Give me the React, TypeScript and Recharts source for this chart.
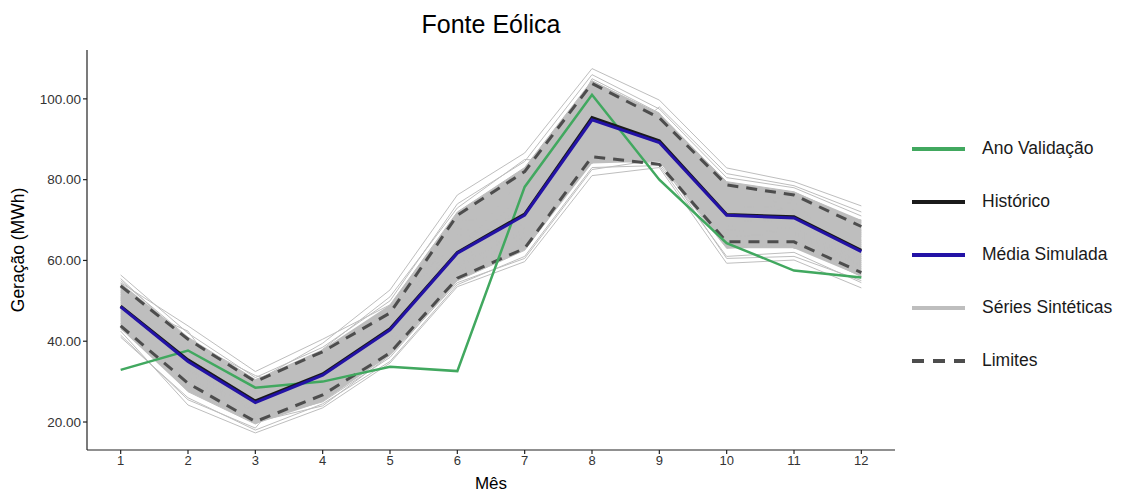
import { ComposedChart, Line, Area, XAxis, YAxis, Legend } from "recharts";

const meses = [1, 2, 3, 4, 5, 6, 7, 8, 9, 10, 11, 12];

const anoValidacao = [32.9, 37.7, 28.5, 30.0, 33.7, 32.6, 78.2, 101.0, 80.0, 64.3, 57.5, 55.8];
const historico = [48.7, 35.4, 25.2, 31.9, 43.1, 62.0, 71.5, 95.4, 89.6, 71.4, 70.8, 62.5];
const mediaSimulada = [48.5, 35.0, 24.8, 31.6, 42.8, 61.8, 71.2, 94.8, 89.2, 71.2, 70.5, 62.2];
const limiteSuperior = [53.7, 40.5, 30.0, 37.4, 47.0, 71.2, 82.0, 103.8, 95.3, 78.7, 76.2, 68.4];
const limiteInferior = [43.8, 29.6, 20.1, 26.7, 37.1, 55.6, 63.0, 85.7, 83.8, 64.6, 64.6, 57.0];

const seriesSinteticas = [
  [50.2, 36.1, 26.0, 32.5, 44.0, 63.0, 72.5, 96.0, 90.1, 72.0, 71.2, 63.0],
  [45.0, 31.0, 22.5, 28.0, 39.5, 58.0, 68.0, 90.5, 86.0, 67.5, 67.0, 59.0],
  [53.0, 39.5, 29.0, 36.0, 46.5, 69.0, 80.0, 102.0, 94.0, 77.0, 75.0, 67.0],
  [47.5, 33.0, 24.0, 30.0, 41.0, 60.5, 70.0, 93.0, 88.0, 70.0, 69.5, 61.0],
  [56.4, 42.0, 31.0, 38.5, 50.0, 74.0, 84.5, 106.0, 97.5, 80.5, 78.0, 71.0],
  [41.0, 26.0, 18.0, 24.5, 35.0, 54.0, 61.0, 83.0, 83.5, 61.0, 62.0, 54.5],
  [49.0, 38.0, 27.5, 33.0, 43.5, 64.5, 76.0, 98.5, 92.5, 74.5, 72.5, 64.5],
  [44.0, 29.5, 21.0, 26.5, 37.5, 56.0, 64.0, 86.5, 84.5, 64.5, 65.0, 57.5],
  [51.5, 40.5, 30.0, 39.5, 52.7, 76.2, 86.6, 107.5, 99.7, 82.9, 79.5, 73.5],
  [42.5, 24.2, 17.3, 23.5, 34.6, 53.5, 59.7, 81.0, 83.0, 59.3, 60.1, 53.2],
  [48.0, 35.5, 25.5, 31.0, 42.0, 61.0, 71.5, 95.5, 89.0, 71.5, 70.0, 62.5],
  [54.5, 43.8, 32.5, 40.5, 49.0, 72.0, 83.0, 104.5, 96.0, 79.5, 77.0, 69.5],
  [46.0, 30.5, 20.5, 25.0, 36.0, 55.0, 62.5, 85.0, 84.0, 63.0, 64.0, 56.0],
  [52.0, 37.0, 28.0, 35.0, 45.5, 67.0, 78.0, 100.0, 93.0, 76.0, 74.0, 66.0],
  [43.0, 32.0, 23.0, 29.0, 38.5, 57.0, 66.0, 88.0, 85.5, 66.0, 66.5, 58.5],
  [50.5, 34.0, 25.0, 34.0, 47.5, 66.0, 74.0, 97.0, 91.0, 73.0, 73.5, 65.0],
  [55.0, 41.0, 30.5, 37.0, 48.0, 71.0, 82.0, 103.0, 95.5, 78.5, 76.5, 68.5],
  [44.5, 27.5, 19.5, 27.5, 40.0, 59.0, 67.0, 89.0, 87.0, 68.5, 68.0, 60.0],
  [49.5, 36.5, 26.5, 32.0, 43.0, 62.5, 73.0, 94.0, 90.5, 72.5, 71.0, 63.5],
  [47.0, 38.5, 28.5, 30.5, 41.5, 65.0, 69.0, 92.0, 87.5, 69.5, 70.5, 60.5],
  [52.5, 33.5, 22.0, 36.5, 46.0, 60.0, 77.0, 99.0, 92.0, 75.5, 69.0, 66.5],
  [45.5, 39.0, 27.0, 28.5, 44.5, 68.0, 65.0, 91.0, 94.5, 70.5, 74.5, 58.0],
  [51.0, 30.0, 24.5, 33.5, 39.0, 63.5, 79.0, 97.5, 86.5, 67.0, 72.0, 64.0],
  [48.5, 35.0, 29.5, 29.5, 45.0, 58.5, 75.0, 101.0, 89.5, 77.5, 66.0, 62.0],
  [46.5, 37.5, 21.5, 35.5, 40.5, 70.0, 70.5, 87.5, 93.5, 65.5, 75.5, 67.5],
  [53.5, 32.5, 26.0, 31.5, 48.5, 61.5, 81.0, 93.5, 88.5, 79.0, 67.5, 59.5],
  [43.5, 36.0, 23.5, 34.5, 42.5, 66.5, 63.5, 95.0, 91.5, 71.0, 73.0, 70.0],
  [55.5, 40.0, 31.5, 27.0, 37.0, 57.5, 74.5, 105.0, 96.5, 73.5, 63.0, 61.5],
  [41.5, 25.5, 18.5, 38.0, 51.0, 73.0, 85.0, 84.0, 98.0, 81.5, 78.5, 72.0],
  [50.0, 42.5, 20.0, 24.0, 36.5, 54.5, 60.5, 82.5, 85.0, 60.5, 61.0, 55.0],
];

const yTicks = [20, 40, 60, 80, 100];

const FONT = "'Liberation Sans', Arial, sans-serif";
const VERDE = "#41a85f";
const AZUL = "#2312a6";
const PRETO = "#1a1a1a";
const CINZA = "#bebebe";
const CINZA_ESCURO = "#4d4d4d";

// one row per month, synthetic series as s0..sN plus the dense core of the bundle
const dados = meses.map((mes, i) => {
  const valores = seriesSinteticas.map((s) => s[i]).sort((a, b) => a - b);
  const row: Record<string, number | number[]> = {
    mes,
    validacao: anoValidacao[i],
    historico: historico[i],
    media: mediaSimulada[i],
    limSup: limiteSuperior[i],
    limInf: limiteInferior[i],
    faixa: [valores[3], valores[valores.length - 4]],
  };
  seriesSinteticas.forEach((s, k) => {
    row[`s${k}`] = s[i];
  });
  return row;
});

const itensLegenda = [
  { nome: "Ano Validação", cor: VERDE, dash: undefined },
  { nome: "Histórico", cor: PRETO, dash: undefined },
  { nome: "Média Simulada", cor: AZUL, dash: undefined },
  { nome: "Séries Sintéticas", cor: CINZA, dash: undefined },
  { nome: "Limites", cor: CINZA_ESCURO, dash: "12 9" },
];

function LegendaFonte() {
  return (
    <div style={{ width: 230, fontFamily: FONT }}>
      {itensLegenda.map((item) => (
        <div
          key={item.nome}
          style={{ display: "flex", alignItems: "center", height: 53 }}
        >
          <svg width={70} height={10}>
            <line
              x1={17}
              y1={5}
              x2={70}
              y2={5}
              stroke={item.cor}
              strokeWidth={4}
              strokeDasharray={item.dash}
            />
          </svg>
          <span style={{ marginLeft: 17, fontSize: 17.5, color: "#1a1a1a" }}>
            {item.nome}
          </span>
        </div>
      ))}
    </div>
  );
}

export default function App() {
  return (
    <div
      style={{
        position: "absolute",
        left: 0,
        top: 0,
        width: 1125,
        height: 493,
        background: "#fff",
        fontFamily: FONT,
      }}
    >
      <div
        style={{
          position: "absolute",
          left: 87,
          width: 808,
          top: 10,
          textAlign: "center",
          fontSize: 25,
          color: "#000",
        }}
      >
        Fonte Eólica
      </div>
      <ComposedChart
        width={1125}
        height={493}
        data={dados}
        margin={{ top: 50, right: 0, bottom: 18, left: 27 }}
        style={{ fontFamily: FONT }}
      >
        <XAxis
          dataKey="mes"
          type="number"
          domain={[0.5, 12.5]}
          ticks={meses}
          interval={0}
          height={25}
          tickSize={4}
          stroke="#222"
          strokeWidth={1.2}
          tick={{ fill: "#333", fontSize: 13 }}
          label={{
            value: "Mês",
            position: "insideBottom",
            offset: -14,
            fill: "#000",
            fontSize: 17,
          }}
        />
        <YAxis
          type="number"
          domain={[13.07, 112.1]}
          ticks={yTicks}
          width={60}
          tickSize={4}
          stroke="#222"
          strokeWidth={1.2}
          tickFormatter={(v: number) => v.toFixed(2)}
          tick={{ fill: "#333", fontSize: 13.5 }}
          label={{
            value: "Geração (MWh)",
            angle: -90,
            position: "insideLeft",
            offset: -9,
            fill: "#000",
            fontSize: 17.5,
            style: { textAnchor: "middle" },
          }}
        />
        <Legend
          layout="vertical"
          align="right"
          verticalAlign="top"
          content={<LegendaFonte />}
          wrapperStyle={{ left: 895, top: 122, width: 230 }}
        />

        <Area
          dataKey="faixa"
          stroke="none"
          fill={CINZA}
          fillOpacity={1}
          isAnimationActive={false}
          legendType="none"
        />
        {seriesSinteticas.map((_, k) => (
          <Line
            key={k}
            dataKey={`s${k}`}
            stroke={CINZA}
            strokeWidth={1}
            dot={false}
            type="linear"
            isAnimationActive={false}
            legendType="none"
          />
        ))}
        <Line
          dataKey="limSup"
          stroke={CINZA_ESCURO}
          strokeWidth={3}
          strokeDasharray="11 8"
          dot={false}
          isAnimationActive={false}
        />
        <Line
          dataKey="limInf"
          stroke={CINZA_ESCURO}
          strokeWidth={3}
          strokeDasharray="11 8"
          dot={false}
          isAnimationActive={false}
        />
        <Line
          dataKey="validacao"
          stroke={VERDE}
          strokeWidth={2.5}
          dot={false}
          isAnimationActive={false}
        />
        <Line
          dataKey="historico"
          stroke={PRETO}
          strokeWidth={3}
          dot={false}
          isAnimationActive={false}
        />
        <Line
          dataKey="media"
          stroke={AZUL}
          strokeWidth={3}
          dot={false}
          isAnimationActive={false}
        />
      </ComposedChart>
    </div>
  );
}
